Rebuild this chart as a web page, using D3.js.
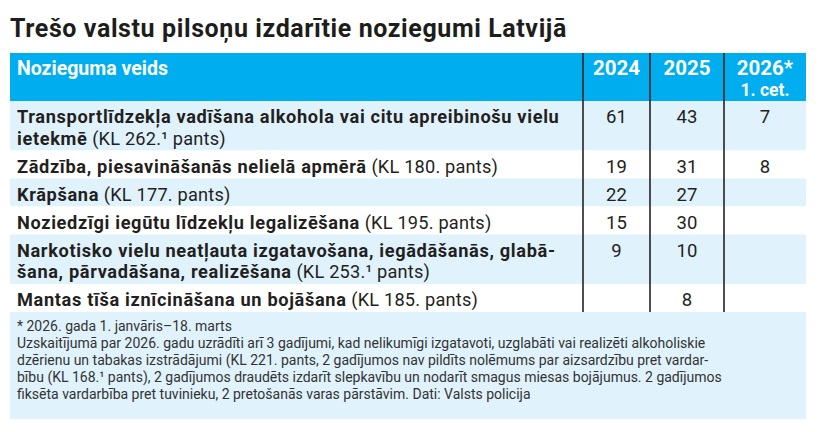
<!DOCTYPE html>
<html>
<head>
<meta charset="utf-8">
<script src="https://cdn.jsdelivr.net/npm/d3@7"></script>
<style>
  body { margin: 0; background: #fff; }
  svg { display: block; font-family: Roboto, "Noto Sans", sans-serif; }
</style>
</head>
<body>
<svg id="chart" width="820" height="432"></svg>
<script>
// data
const title = "Trešo valstu pilsoņu izdarītie noziegumi Latvijā";
const columns = ["2024", "2025", "2026"];
const columnLabels = [["2024"], ["2025"], ["2026*", "1. cet."]];
const firstColumnLabel = "Nozieguma veids";

// each category: lines of bold text, last line followed by the law reference
const categories = [
  ["Transportlīdzekļa vadīšana alkohola vai citu apreibinošu vielu", "ietekmē"],
  ["Zādzība, piesavināšanās nelielā apmērā"],
  ["Krāpšana"],
  ["Noziedzīgi iegūtu līdzekļu legalizēšana"],
  ["Narkotisko vielu neatļauta izgatavošana, iegādāšanās, glabā-", "šana, pārvadāšana, realizēšana"],
  ["Mantas tīša iznīcināšana un bojāšana"]
];
const lawRefs = ["(KL 262.¹ pants)", "(KL 180. pants)", "(KL 177. pants)",
  "(KL 195. pants)", "(KL 253.¹ pants)", "(KL 185. pants)"];
const values2024 = [61, 19, 22, 15, 9, null];
const values2025 = [43, 31, 27, 30, 10, 8];
const values2026 = [7, 8, null, null, null, null];

const footnotes = [
  "* 2026. gada 1. janvāris–18. marts",
  "Uzskaitījumā par 2026. gadu uzrādīti arī 3 gadījumi, kad nelikumīgi izgatavoti, uzglabāti vai realizēti alkoholiskie",
  "dzērienu un tabakas izstrādājumi (KL 221. pants, 2 gadījumos nav pildīts nolēmums par aizsardzību pret vardar-",
  "bību (KL 168.¹ pants), 2 gadījumos draudēts izdarīt slepkavību un nodarīt smagus miesas bojājumus. 2 gadījumos",
  "fiksēta vardarbība pret tuvinieku, 2 pretošanās varas pārstāvim. Dati: Valsts policija"
];

// layout
const left = 10, right = 806;
const headerTop = 53, headerBottom = 101;
const colEdges = [583, 650, 724, right];
const rowBase = 28, lineStep = 21.5;
const blue = "#00aeef", band = "#e0f2fc", ink = "#231f20";

const svg = d3.select("#chart");

svg.append("text")
  .attr("x", left).attr("y", 37)
  .attr("font-size", 25).attr("font-weight", 700)
  .attr("letter-spacing", 0.6)
  .attr("fill", "#1d1d1b")
  .text(title);

// header
svg.append("rect")
  .attr("x", left).attr("y", headerTop)
  .attr("width", right - left).attr("height", headerBottom - headerTop)
  .attr("fill", blue);

svg.append("text")
  .attr("x", left + 7).attr("y", 75)
  .attr("font-size", 19.5).attr("font-weight", 700).attr("fill", "#fff")
  .text(firstColumnLabel);

const x = d3.scaleOrdinal()
  .domain(columns)
  .range(columns.map((c, i) => (colEdges[i] + colEdges[i + 1]) / 2));

svg.selectAll("text.colhead")
  .data(columns)
  .join("text")
    .attr("class", "colhead")
    .attr("x", d => x(d)).attr("y", 74.5)
    .attr("text-anchor", "middle")
    .attr("font-weight", 700).attr("fill", "#fff")
  .selectAll("tspan")
  .data((d, i) => columnLabels[i])
  .join("tspan")
    .attr("x", function() { return this.parentNode.getAttribute("x"); })
    .attr("dy", (d, i) => i ? 21.5 : 0)
    .attr("font-size", (d, i) => i ? 17.5 : 20.5)
    .text(d => d);

// rows
const rows = categories.map((lines, i) => ({
  lines, ref: lawRefs[i],
  vals: [values2024[i], values2025[i], values2026[i]],
  h: rowBase + (lines.length - 1) * lineStep
}));
const ends = d3.cumsum(rows, d => d.h);
rows.forEach((r, i) => r.y = headerBottom + ends[i] - r.h);
const tableBottom = headerBottom + ends[ends.length - 1];

const row = svg.selectAll("g.row")
  .data(rows)
  .join("g")
    .attr("class", "row")
    .attr("transform", d => `translate(0,${d.y})`);

row.append("rect")
  .attr("x", left).attr("width", right - left)
  .attr("height", d => d.h)
  .attr("fill", (d, i) => i % 2 ? "#fff" : band);

row.each(function(d) {
  const g = d3.select(this);
  d.lines.forEach((line, j) => {
    const t = g.append("text")
      .attr("x", left + 7).attr("y", 22 + j * lineStep)
      .attr("font-size", 18.2).attr("fill", ink);
    t.append("tspan").attr("font-weight", 700)
      .attr("letter-spacing", 0.65).text(line);
    if (j === d.lines.length - 1)
      t.append("tspan").attr("font-weight", 400)
        .attr("letter-spacing", 0.2).text(" " + d.ref);
  });
});

row.selectAll("text.val")
  .data(d => d.vals.map((v, i) => ({ v, col: columns[i] })).filter(e => e.v != null))
  .join("text")
    .attr("class", "val")
    .attr("x", e => x(e.col)).attr("y", 22)
    .attr("text-anchor", "middle")
    .attr("font-size", 18.5).attr("fill", ink)
    .text(e => e.v);

// column dividers
svg.selectAll("line.div")
  .data(colEdges.slice(0, 3))
  .join("line")
    .attr("class", "div")
    .attr("x1", d => d).attr("x2", d => d)
    .attr("y1", headerTop).attr("y2", tableBottom)
    .attr("stroke", "#222").attr("stroke-width", 1.6);

// footnote
svg.append("rect")
  .attr("x", left).attr("y", tableBottom)
  .attr("width", right - left).attr("height", 419 - tableBottom)
  .attr("fill", band);

svg.selectAll("text.note")
  .data(footnotes)
  .join("text")
    .attr("class", "note")
    .attr("x", left + 7).attr("y", (d, i) => 331 + i * 17)
    .attr("font-size", 14).attr("fill", "#333")
    .text(d => d);
</script>
</body>
</html>
